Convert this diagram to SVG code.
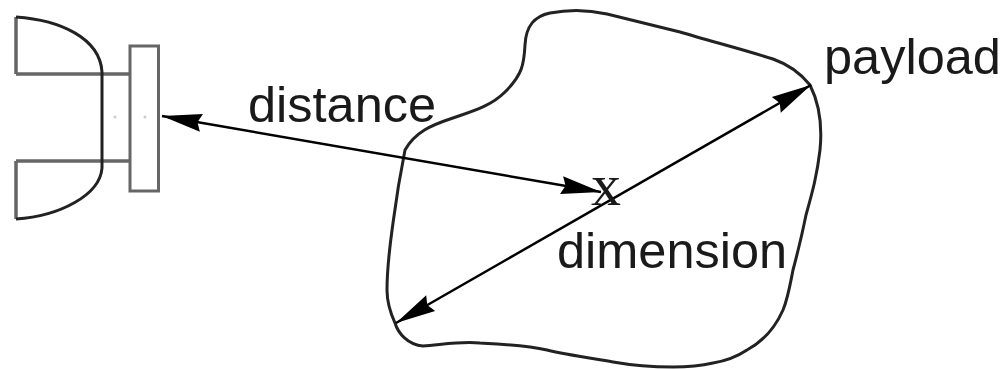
<svg xmlns="http://www.w3.org/2000/svg" width="1006" height="369" viewBox="0 0 1006 369">
<defs><marker id="a" markerUnits="userSpaceOnUse" markerWidth="44" markerHeight="22" refX="42" refY="11" orient="auto-start-reverse"><path d="M2 2L42 11L2 20L6 11Z" fill="#000"/></marker></defs>
<style>
.l{fill:none;stroke:#222;stroke-width:3}
.g{fill:none;stroke:#666;stroke-width:3.500}
text{font-family:"Liberation Sans",Arial,sans-serif;font-size:50.500px;fill:#1a1a1a}
</style>
<rect width="1006" height="369" fill="#fff"/>
<g id="receiver">
<path class="g" d="M16 74V17M16 74H130M16 161V219M16 161H130"/>
<path class="l" d="M16 17C60 20 100 38 102 72V168C100 195 60 216 16 219"/>
<rect x="130" y="46" width="28.500" height="145" fill="#fff" stroke="#666" stroke-width="3"/>
<circle cx="115" cy="117" r="1.500" fill="#ccc"/>
<circle cx="145" cy="117" r="1.500" fill="#ccc"/>
</g>
<g id="payload">
<path class="l" d="M405 150C415 132 432 125 450 119C470 112 490 107 505 92C522 75 524 65 525 45C526 25 535 16 550 13C570 9 590 10 607 14C640 22 660 27 680 32C710 41 745 50 773 59C790 65 802 75 810 85C820 105 822 130 820 150C817 175 813 190 806 215C802 235 797 255 793 270C790 285 788 298 783 310C775 328 762 342 747 350C735 358 725 361 713 363C700 366 685 367 673 367C650 367 630 365 613 362C590 358 568 355 547 350C525 345 500 344 480 343C460 341 440 345 423 346C408 345 398 333 395 323C390 312 387 300 387 290C387 265 390 245 393 223C396 200 401 170 405 150Z"/>
<text x="824" y="74">payload</text>
</g>
<g id="connectors">
<line x1="162" y1="116" x2="601" y2="192" stroke="#000" stroke-width="2.500" marker-start="url(#a)" marker-end="url(#a)"/>
<line x1="396" y1="323" x2="811" y2="85" stroke="#000" stroke-width="2.500" marker-start="url(#a)" marker-end="url(#a)"/>
</g>
<g id="labels">
<text x="248" y="122">distance</text>
<text x="557" y="268">dimension</text>
<text x="591" y="205" style="font-family:'Liberation Serif',serif;font-size:60px">x</text>
</g>
</svg>
